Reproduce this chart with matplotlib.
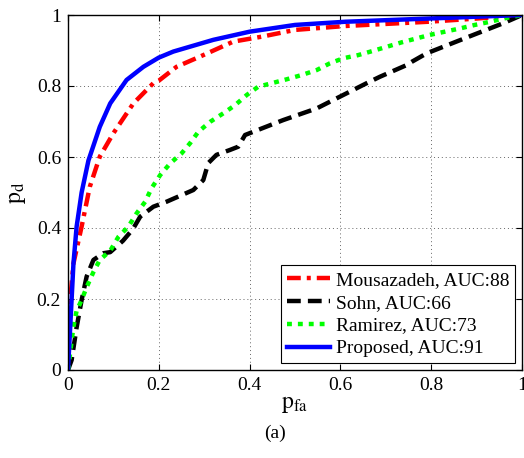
import numpy as np
import matplotlib
matplotlib.use('Agg')
import matplotlib.pyplot as plt

plt.rcParams['font.family'] = ['Liberation Serif', 'DejaVu Serif']
plt.rcParams['mathtext.fontset'] = 'stix'

# ROC curves (pfa, pd)
mous_pfa = [0, 0.005, 0.012, 0.03, 0.048, 0.07, 0.1, 0.144, 0.188, 0.2, 0.239, 0.291,
            0.364, 0.427, 0.5, 0.611, 0.794, 0.9, 1.0]
mous_pd = [0.13, 0.2, 0.3, 0.404, 0.516, 0.601, 0.667, 0.751, 0.808, 0.815, 0.854, 0.883,
           0.925, 0.939, 0.958, 0.969, 0.981, 0.99, 1.0]

sohn_pfa = [0, 0.008, 0.019, 0.03, 0.041, 0.056, 0.078, 0.093, 0.121, 0.143, 0.159, 0.188,
            0.217, 0.276, 0.298, 0.309, 0.327, 0.357, 0.375, 0.39, 0.408, 0.474, 0.548,
            0.599, 0.658, 0.687, 0.746, 0.757, 0.79, 0.893, 0.959, 1.0]
sohn_pd = [0, 0.028, 0.12, 0.197, 0.263, 0.31, 0.329, 0.332, 0.364, 0.397, 0.432, 0.46,
           0.474, 0.507, 0.535, 0.583, 0.606, 0.62, 0.629, 0.662, 0.671, 0.704, 0.737,
           0.77, 0.808, 0.826, 0.859, 0.868, 0.892, 0.944, 0.977, 1.0]

ram_pfa = [0, 0.012, 0.019, 0.03, 0.041, 0.056, 0.07, 0.093, 0.111, 0.133, 0.151, 0.17,
           0.184, 0.203, 0.225, 0.25, 0.269, 0.287, 0.313, 0.342, 0.368, 0.394, 0.419,
           0.452, 0.482, 0.515, 0.548, 0.577, 0.606, 0.639, 0.672, 0.735, 0.797, 0.863,
           0.896, 0.93, 0.959, 1.0]
ram_pd = [0, 0.122, 0.167, 0.197, 0.233, 0.276, 0.31, 0.336, 0.375, 0.404, 0.441, 0.474,
          0.512, 0.549, 0.582, 0.61, 0.639, 0.671, 0.699, 0.723, 0.746, 0.775, 0.798,
          0.809, 0.819, 0.831, 0.845, 0.864, 0.878, 0.887, 0.899, 0.923, 0.944, 0.962,
          0.972, 0.981, 0.99, 1.0]

prop_pfa = [0, 0.004, 0.008, 0.012, 0.019, 0.03, 0.045, 0.07, 0.093, 0.129, 0.166, 0.2,
            0.232, 0.32, 0.4, 0.5, 0.611, 0.794, 1.0]
prop_pd = [0, 0.1, 0.2, 0.3, 0.404, 0.5, 0.59, 0.685, 0.751, 0.817, 0.854, 0.88,
           0.897, 0.93, 0.953, 0.972, 0.981, 0.99, 1.0]

labels = ['Mousazadeh, AUC:88', 'Sohn, AUC:66', 'Ramirez, AUC:73', 'Proposed, AUC:91']
ticks = [0, 0.2, 0.4, 0.6, 0.8, 1]
tick_labels = ['0', '0.2', '0.4', '0.6', '0.8', '1']

fig = plt.figure(figsize=(5.24, 4.58), dpi=100)
ax = fig.add_axes([68 / 524, 88 / 458, 454 / 524, 355 / 458])

lw = 3.2
ax.plot(mous_pfa, mous_pd, color='#ff0000', lw=lw, dashes=(3.1, 1.35, 0.9, 1.35), label=labels[0])
ax.plot(sohn_pfa, sohn_pd, color='black', lw=lw, dashes=(3.1, 1.6), label=labels[1])
ax.plot(ram_pfa, ram_pd, color='#00ff00', lw=lw, dashes=(1.1, 1.35), label=labels[2])
ax.plot(prop_pfa, prop_pd, color='#0000ff', lw=lw, label=labels[3])

ax.set_xlim(0, 1)
ax.set_ylim(0, 1)
ax.set_xticks(ticks)
ax.set_xticklabels(tick_labels)
ax.set_yticks(ticks)
ax.set_yticklabels(tick_labels)
ax.tick_params(direction='in', top=True, right=True, labelsize=14, length=4, pad=5)
ax.grid(True, linestyle=(0, (1, 3)), color='#666666', linewidth=0.7)
for s in ax.spines.values():
    s.set_linewidth(1.0)

ax.set_xlabel(r'$\mathrm{p}_{\mathrm{fa}}$', fontsize=17, labelpad=0)
ax.set_ylabel(r'$\mathrm{p}_{\mathrm{d}}$', fontsize=17, labelpad=6)

leg = ax.legend(loc='lower right', fontsize=14, handlelength=2.2, handletextpad=0.3,
                borderpad=0.3, labelspacing=0.27, fancybox=False, framealpha=1,
                edgecolor='black', borderaxespad=0.35)
leg.get_frame().set_linewidth(0.8)

fig.text(275 / 524, 1 - 433 / 458, '(a)', ha='center', va='center', fontsize=14)

fig.savefig('out.png', dpi=100)
